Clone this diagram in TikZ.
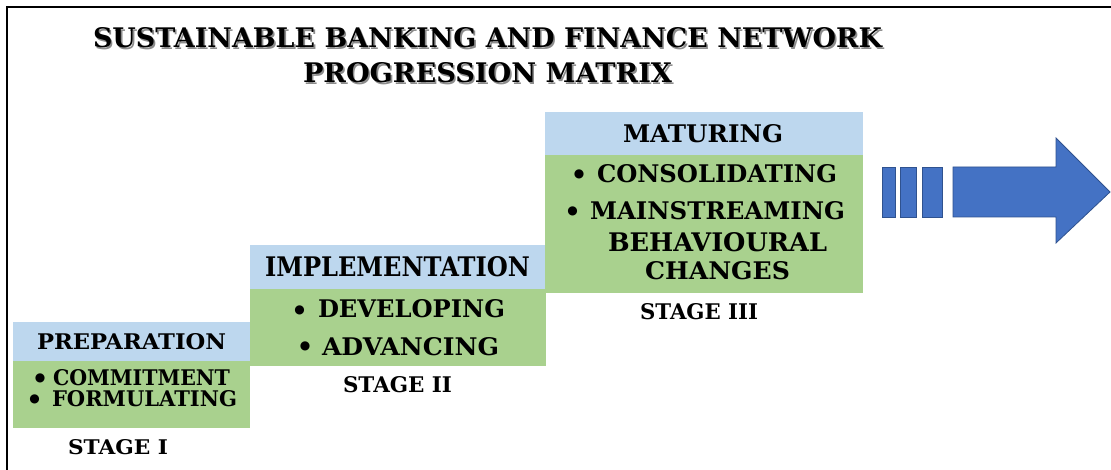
\documentclass[tikz,border=0pt]{standalone}
\usepackage{fontspec}
\usepackage{graphicx}
\setmainfont{DejaVu Serif}
\newfontfamily\dotfont{DejaVu Sans}

% one drawing unit = one pixel of the 1111 x 470 canvas
\newdimen\pxu \pxu=0.75pt
% set a caps-only line to an exact width and cap height (in px)
\newcommand\fitbox[3]{\resizebox{#1\pxu}{#2\pxu}{#3}}

\definecolor{headblue}{HTML}{BDD7EE}
\definecolor{bodygreen}{HTML}{A9D18E}
\definecolor{arrowblue}{HTML}{4472C4}
\definecolor{arrowedge}{HTML}{2F528F}

\tikzset{
  lbl/.style={inner sep=0pt, outer sep=0pt, anchor=north west, font=\bfseries, text=black},
  shade/.style={lbl, text=black!45},
  bul/.style={inner sep=0pt, outer sep=0pt, anchor=center,
              font=\dotfont\fontsize{9}{9}\selectfont, text=black},
  head/.style={fill=headblue},
  body/.style={fill=bodygreen},
  blockarrow/.style={fill=arrowblue, draw=arrowedge, line width=0.6pt, line join=miter},
  frame/.style={draw=black, line width=1.7pt}
}

\begin{document}
\begin{tikzpicture}[x=0.75pt, y=-0.75pt]
  \useasboundingbox (0,0) rectangle (1111,470);
  \fill[white] (0,0) rectangle (1111,470);

  % outer frame (top and left edges)
  \draw[frame] (7,470) -- (7,7) -- (1111,7);

  % title with a soft drop shadow
  \node[shade] (t1s) at (94.6,29.6) {\fitbox{789}{20}{SUSTAINABLE BANKING AND FINANCE NETWORK}};
  \node[shade] (t2s) at (304.6,64.6) {\fitbox{369}{20}{PROGRESSION MATRIX}};
  \node[lbl] (t1) at (93,28) {\fitbox{789}{20}{SUSTAINABLE BANKING AND FINANCE NETWORK}};
  \node[lbl] (t2) at (303,63) {\fitbox{369}{20}{PROGRESSION MATRIX}};

  % ---- stage I ----
  \fill[head] (13,322) rectangle (250,361);
  \fill[body] (13,361) rectangle (250,428);
  \node[lbl] (prep) at (37,334) {\fitbox{189}{16}{PREPARATION}};
  \node[bul] (b1a) at (40,378) {●};
  \node[lbl] (commit) at (53,370) {\fitbox{177}{16}{COMMITMENT}};
  \node[bul] (b1b) at (34.5,399) {●};
  \node[lbl] (formul) at (52,391) {\fitbox{185}{16}{FORMULATING}};
  \node[lbl] (st1) at (68,440) {\fitbox{100}{15}{STAGE I}};

  % ---- stage II ----
  \fill[head] (250,245) rectangle (546,289);
  \fill[body] (250,289) rectangle (546,366);
  \node[lbl] (impl) at (265,257) {\fitbox{265}{20}{IMPLEMENTATION}};
  \node[bul] (b2a) at (299.5,310) {●};
  \node[lbl] (devel) at (318,300) {\fitbox{187}{18}{DEVELOPING}};
  \node[bul] (b2b) at (305,346) {●};
  \node[lbl] (advan) at (322,337) {\fitbox{177}{18}{ADVANCING}};
  \node[lbl] (st2) at (343,377) {\fitbox{109}{16}{STAGE II}};

  % ---- stage III ----
  \fill[head] (545,112) rectangle (863,155);
  \fill[body] (545,155) rectangle (863,293);
  \node[lbl] (matur) at (623,125) {\fitbox{160}{18}{MATURING}};
  \node[bul] (b3a) at (579,174) {●};
  \node[lbl] (consol) at (597,165) {\fitbox{240}{18}{CONSOLIDATING}};
  \node[bul] (b3b) at (572.5,211) {●};
  \node[lbl] (mainst) at (590,202) {\fitbox{255}{18}{MAINSTREAMING}};
  \node[lbl] (behav) at (608,233) {\fitbox{219}{19}{BEHAVIOURAL}};
  \node[lbl] (chang) at (645,262) {\fitbox{145}{18}{CHANGES}};
  \node[lbl] (st3) at (640,304) {\fitbox{118}{16}{STAGE III}};

  % ---- onward arrow ----
  \draw[blockarrow] (882,167) rectangle (895,217);
  \draw[blockarrow] (900,167) rectangle (916,217);
  \draw[blockarrow] (922,167) rectangle (942,217);
  \draw[blockarrow] (953,167) -- (1056,167) -- (1056,138) -- (1110,192)
        -- (1056,243) -- (1056,217) -- (953,217) -- cycle;
\end{tikzpicture}
\end{document}
